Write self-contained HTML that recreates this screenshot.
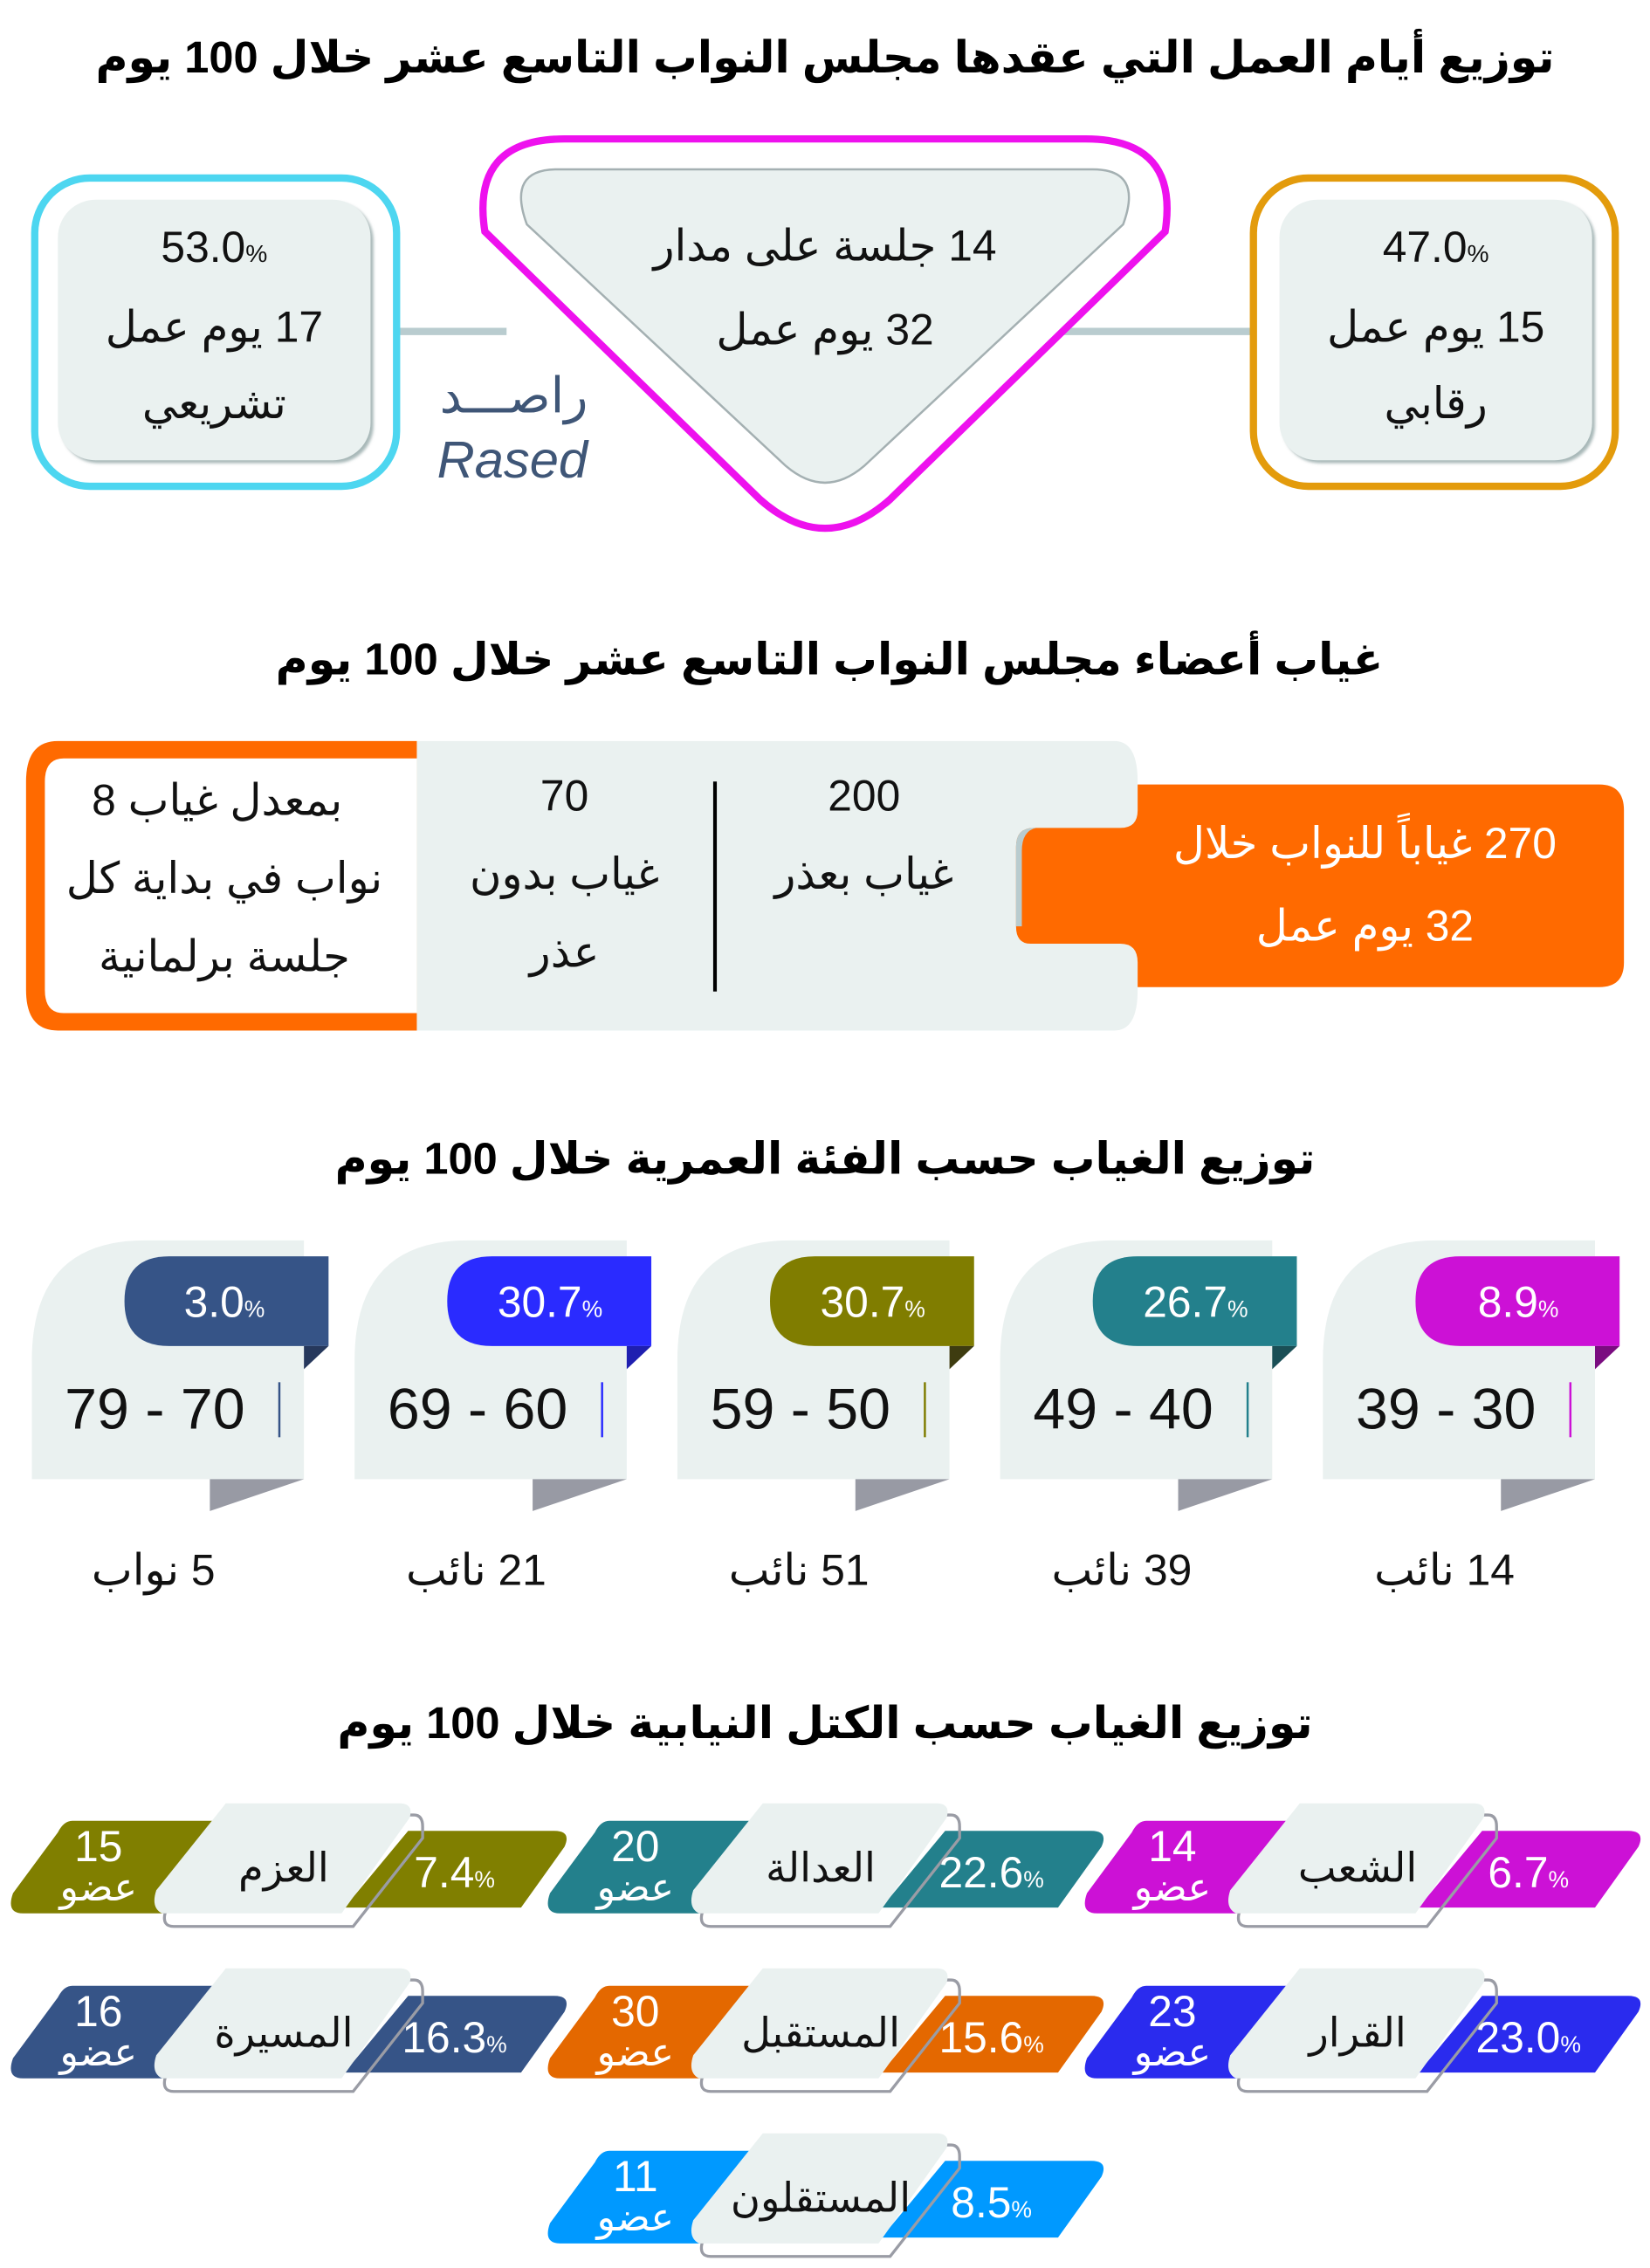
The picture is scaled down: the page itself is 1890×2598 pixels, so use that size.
<!DOCTYPE html>
<html><head><meta charset="utf-8"><style>
html,body{margin:0;padding:0;background:#fff;}
svg{display:block;}
text{font-family:"Liberation Sans","DejaVu Sans",sans-serif;}
.t{font-weight:bold;font-size:30.5px;fill:#000;}
.b{font-size:30px;fill:#111;}
.w{fill:#fff;}
</style></head><body>
<svg width="1890" height="2598" viewBox="0 0 1140 1567" preserveAspectRatio="none" xmlns="http://www.w3.org/2000/svg">
<defs>
<filter id="sh" x="-10%" y="-10%" width="130%" height="130%"><feDropShadow dx="2" dy="2" stdDeviation="1" flood-color="#9fb0b0" flood-opacity="0.9"/></filter>
<g id="pt">
 <path d="M167,1254 L286,1254 Q292,1254 292,1262 L292,1270 L244,1331 L120,1331 Q112,1331 114,1322 L161,1258 Z" fill="none" stroke="#9a9ca5" stroke-width="2"/>
 <path d="M156,1246 L276,1246 Q286,1246 283,1256 L236,1322 L112,1322 Q104,1318 108,1306 Z" fill="#eaf1f0"/>
</g>
</defs>
<text class="t" x="570" y="50" text-anchor="middle" direction="rtl">توزيع أيام العمل التي عقدها مجلس النواب التاسع عشر خلال 100 يوم</text>
<line x1="276" y1="229" x2="350" y2="229" stroke="#b9cccf" stroke-width="5"/>
<line x1="735" y1="229" x2="866" y2="229" stroke="#b9cccf" stroke-width="5"/>
<rect x="24" y="123" width="250" height="213" rx="38" fill="#fff" stroke="#4dd6f0" stroke-width="5"/>
<rect x="40" y="138" width="216" height="180" rx="26" fill="#eaf1f0" filter="url(#sh)"/>
<text class="b" x="148" y="181" text-anchor="middle" direction="ltr" font-size="32">53.0<tspan font-size="17">%</tspan></text>
<text class="b" x="148" y="236" text-anchor="middle" direction="rtl">17 يوم عمل</text>
<text class="b" x="148" y="289" text-anchor="middle" direction="rtl">تشريعي</text>
<rect x="866" y="123" width="250" height="213" rx="38" fill="#fff" stroke="#e39b0c" stroke-width="5"/>
<rect x="884" y="138" width="216" height="180" rx="26" fill="#eaf1f0" filter="url(#sh)"/>
<text class="b" x="992" y="181" text-anchor="middle" direction="ltr" font-size="32">47.0<tspan font-size="17">%</tspan></text>
<text class="b" x="992" y="236" text-anchor="middle" direction="rtl">15 يوم عمل</text>
<text class="b" x="992" y="289" text-anchor="middle" direction="rtl">رقابي</text>
<path d="M390,96 L750,96 Q815,96 805,160 L615,345 Q570,385 525,345 L335,160 Q325,96 390,96 Z" fill="#fff" stroke="#ee11ee" stroke-width="5"/>
<path d="M385,117 L755,117 Q790,117 776,155 L597,322 Q570,345 543,322 L364,155 Q350,117 385,117 Z" fill="#eaf1f0" stroke="#a4b0b2" stroke-width="1.5"/>
<text class="b" x="570" y="180" text-anchor="middle" direction="rtl">14 جلسة على مدار</text>
<text class="b" x="570" y="238" text-anchor="middle" direction="rtl">32 يوم عمل</text>
<text x="355" y="285" text-anchor="middle" font-size="34" fill="#3f5677" direction="rtl">راصـــد</text>
<text x="354" y="330" text-anchor="middle" font-size="36" font-style="italic" font-family="Liberation Serif,serif" fill="#3f5677">Rased</text>

<text class="t" x="573" y="466" text-anchor="middle" direction="rtl">غياب أعضاء مجلس النواب التاسع عشر خلال 100 يوم</text>
<path d="M288,512 L40,512 Q18,512 18,540 L18,684 Q18,712 40,712 L288,712 Z" fill="#ff6a00"/>
<path d="M288,524 L44,524 Q31,524 31,540 L31,684 Q31,700 44,700 L288,700 Z" fill="#fff"/>
<path d="M288,512 L770,512 Q786,512 786,540 L786,684 Q786,712 770,712 L288,712 Z" fill="#eaf1f0"/>
<line x1="494" y1="540" x2="494" y2="685" stroke="#000" stroke-width="2.5"/>
<path d="M786,542 L1105,542 Q1122,542 1122,560 L1122,665 Q1122,682 1105,682 L786,682 L786,665 Q786,652 774,652 L712,652 Q702,652 702,640 L702,585 Q702,572 714,572 L774,572 Q786,572 786,560 Z" fill="#ff6a00"/>
<path d="M702,640 L702,585 Q702,572 714,572 L716,572 Q706,574 706,588 L706,640 Z" fill="#b9cccf"/>
<text class="b" x="150" y="563" text-anchor="middle" direction="rtl">بمعدل غياب 8</text>
<text class="b" x="155" y="617" text-anchor="middle" direction="rtl">نواب في بداية كل</text>
<text class="b" x="155" y="671" text-anchor="middle" direction="rtl">جلسة برلمانية</text>
<text class="b" x="390" y="560" text-anchor="middle" font-size="33">70</text>
<text class="b" x="390" y="614" text-anchor="middle" direction="rtl">غياب بدون</text>
<text class="b" x="390" y="668" text-anchor="middle" direction="rtl">عذر</text>
<text class="b" x="597" y="560" text-anchor="middle" font-size="33">200</text>
<text class="b" x="597" y="614" text-anchor="middle" direction="rtl">غياب بعذر</text>
<text class="b w" x="943" y="593" text-anchor="middle" direction="rtl" font-size="31">270 غياباً للنواب خلال</text>
<text class="b w" x="943" y="650" text-anchor="middle" direction="rtl" font-size="31">32 يوم عمل</text>

<text class="t" x="570" y="811" text-anchor="middle" direction="rtl">توزيع الغياب حسب الفئة العمرية خلال 100 يوم</text>
<g>
 <path d="M22,1022 L22,940 Q22,857 100,857 L210,857 L210,1022 Z" fill="#eaf1f0"/>
 <path d="M117,868 L227,868 L227,930 L117,930 Q86,930 86,899 Q86,868 117,868 Z" fill="#365487"/>
 <path d="M210,930 L227,930 L210,946 Z" fill="#26385c"/>
 <path d="M145,1022 L210,1022 L145,1044 Z" fill="#989aa4"/>
 <line x1="193" y1="955" x2="193" y2="993" stroke="#365487" stroke-width="1.5"/>
 <text x="155" y="910" text-anchor="middle" font-size="30" class="w">3.0<tspan font-size="16">%</tspan></text>
 <text x="107" y="987" text-anchor="middle" font-size="40" fill="#111">79 - 70</text>
 <text class="b" x="106" y="1095" text-anchor="middle" direction="rtl">5 نواب</text>
</g>
<g transform="translate(223,0)">
 <path d="M22,1022 L22,940 Q22,857 100,857 L210,857 L210,1022 Z" fill="#eaf1f0"/>
 <path d="M117,868 L227,868 L227,930 L117,930 Q86,930 86,899 Q86,868 117,868 Z" fill="#2a2bff"/>
 <path d="M210,930 L227,930 L210,946 Z" fill="#1f1fb0"/>
 <path d="M145,1022 L210,1022 L145,1044 Z" fill="#989aa4"/>
 <line x1="193" y1="955" x2="193" y2="993" stroke="#2a2bff" stroke-width="1.5"/>
 <text x="157" y="910" text-anchor="middle" font-size="30" class="w">30.7<tspan font-size="16">%</tspan></text>
 <text x="107" y="987" text-anchor="middle" font-size="40" fill="#111">69 - 60</text>
 <text class="b" x="106" y="1095" text-anchor="middle" direction="rtl">21 نائب</text>
</g>
<g transform="translate(446,0)">
 <path d="M22,1022 L22,940 Q22,857 100,857 L210,857 L210,1022 Z" fill="#eaf1f0"/>
 <path d="M117,868 L227,868 L227,930 L117,930 Q86,930 86,899 Q86,868 117,868 Z" fill="#807d00"/>
 <path d="M210,930 L227,930 L210,946 Z" fill="#3e3c10"/>
 <path d="M145,1022 L210,1022 L145,1044 Z" fill="#989aa4"/>
 <line x1="193" y1="955" x2="193" y2="993" stroke="#807d00" stroke-width="1.5"/>
 <text x="157" y="910" text-anchor="middle" font-size="30" class="w">30.7<tspan font-size="16">%</tspan></text>
 <text x="107" y="987" text-anchor="middle" font-size="40" fill="#111">59 - 50</text>
 <text class="b" x="106" y="1095" text-anchor="middle" direction="rtl">51 نائب</text>
</g>
<g transform="translate(669,0)">
 <path d="M22,1022 L22,940 Q22,857 100,857 L210,857 L210,1022 Z" fill="#eaf1f0"/>
 <path d="M117,868 L227,868 L227,930 L117,930 Q86,930 86,899 Q86,868 117,868 Z" fill="#23808c"/>
 <path d="M210,930 L227,930 L210,946 Z" fill="#1a4f56"/>
 <path d="M145,1022 L210,1022 L145,1044 Z" fill="#989aa4"/>
 <line x1="193" y1="955" x2="193" y2="993" stroke="#23808c" stroke-width="1.5"/>
 <text x="157" y="910" text-anchor="middle" font-size="30" class="w">26.7<tspan font-size="16">%</tspan></text>
 <text x="107" y="987" text-anchor="middle" font-size="40" fill="#111">49 - 40</text>
 <text class="b" x="106" y="1095" text-anchor="middle" direction="rtl">39 نائب</text>
</g>
<g transform="translate(892,0)">
 <path d="M22,1022 L22,940 Q22,857 100,857 L210,857 L210,1022 Z" fill="#eaf1f0"/>
 <path d="M117,868 L227,868 L227,930 L117,930 Q86,930 86,899 Q86,868 117,868 Z" fill="#cc11d6"/>
 <path d="M210,930 L227,930 L210,946 Z" fill="#7a0c80"/>
 <path d="M145,1022 L210,1022 L145,1044 Z" fill="#989aa4"/>
 <line x1="193" y1="955" x2="193" y2="993" stroke="#cc11d6" stroke-width="1.5"/>
 <text x="157" y="910" text-anchor="middle" font-size="30" class="w">8.9<tspan font-size="16">%</tspan></text>
 <text x="107" y="987" text-anchor="middle" font-size="40" fill="#111">39 - 30</text>
 <text class="b" x="106" y="1095" text-anchor="middle" direction="rtl">14 نائب</text>
</g>

<text class="t" x="570" y="1201" text-anchor="middle" direction="rtl">توزيع الغياب حسب الكتل النيابية خلال 100 يوم</text>
<g>
 <path d="M50,1258 L148,1258 L115,1322 L16,1322 Q4,1322 9,1308 L40,1266 Q44,1258 50,1258 Z" fill="#807f00"/>
 <path d="M282,1265 L383,1265 Q395,1265 390,1276 L360,1318 L238,1318 Z" fill="#807f00"/>
 <use href="#pt"/>
 <text x="68" y="1286" text-anchor="middle" font-size="30" class="w">15</text>
 <text x="68" y="1313" text-anchor="middle" font-size="27" class="w" direction="rtl">عضو</text>
 <text x="196" y="1300" text-anchor="middle" font-size="28" fill="#111" direction="rtl">العزم</text>
 <text x="314" y="1304" text-anchor="middle" font-size="30" class="w">7.4<tspan font-size="16">%</tspan></text>
</g>
<g transform="translate(371,0)">
 <path d="M50,1258 L148,1258 L115,1322 L16,1322 Q4,1322 9,1308 L40,1266 Q44,1258 50,1258 Z" fill="#23808c"/>
 <path d="M282,1265 L383,1265 Q395,1265 390,1276 L360,1318 L238,1318 Z" fill="#23808c"/>
 <use href="#pt"/>
 <text x="68" y="1286" text-anchor="middle" font-size="30" class="w">20</text>
 <text x="68" y="1313" text-anchor="middle" font-size="27" class="w" direction="rtl">عضو</text>
 <text x="196" y="1300" text-anchor="middle" font-size="28" fill="#111" direction="rtl">العدالة</text>
 <text x="314" y="1304" text-anchor="middle" font-size="30" class="w">22.6<tspan font-size="16">%</tspan></text>
</g>
<g transform="translate(742,0)">
 <path d="M50,1258 L148,1258 L115,1322 L16,1322 Q4,1322 9,1308 L40,1266 Q44,1258 50,1258 Z" fill="#cc11d6"/>
 <path d="M282,1265 L383,1265 Q395,1265 390,1276 L360,1318 L238,1318 Z" fill="#cc11d6"/>
 <use href="#pt"/>
 <text x="68" y="1286" text-anchor="middle" font-size="30" class="w">14</text>
 <text x="68" y="1313" text-anchor="middle" font-size="27" class="w" direction="rtl">عضو</text>
 <text x="196" y="1300" text-anchor="middle" font-size="28" fill="#111" direction="rtl">الشعب</text>
 <text x="314" y="1304" text-anchor="middle" font-size="30" class="w">6.7<tspan font-size="16">%</tspan></text>
</g>
<g transform="translate(0,114)">
 <path d="M50,1258 L148,1258 L115,1322 L16,1322 Q4,1322 9,1308 L40,1266 Q44,1258 50,1258 Z" fill="#365487"/>
 <path d="M282,1265 L383,1265 Q395,1265 390,1276 L360,1318 L238,1318 Z" fill="#365487"/>
 <use href="#pt"/>
 <text x="68" y="1286" text-anchor="middle" font-size="30" class="w">16</text>
 <text x="68" y="1313" text-anchor="middle" font-size="27" class="w" direction="rtl">عضو</text>
 <text x="196" y="1300" text-anchor="middle" font-size="28" fill="#111" direction="rtl">المسيرة</text>
 <text x="314" y="1304" text-anchor="middle" font-size="30" class="w">16.3<tspan font-size="16">%</tspan></text>
</g>
<g transform="translate(371,114)">
 <path d="M50,1258 L148,1258 L115,1322 L16,1322 Q4,1322 9,1308 L40,1266 Q44,1258 50,1258 Z" fill="#e46800"/>
 <path d="M282,1265 L383,1265 Q395,1265 390,1276 L360,1318 L238,1318 Z" fill="#e46800"/>
 <use href="#pt"/>
 <text x="68" y="1286" text-anchor="middle" font-size="30" class="w">30</text>
 <text x="68" y="1313" text-anchor="middle" font-size="27" class="w" direction="rtl">عضو</text>
 <text x="196" y="1300" text-anchor="middle" font-size="28" fill="#111" direction="rtl">المستقبل</text>
 <text x="314" y="1304" text-anchor="middle" font-size="30" class="w">15.6<tspan font-size="16">%</tspan></text>
</g>
<g transform="translate(742,114)">
 <path d="M50,1258 L148,1258 L115,1322 L16,1322 Q4,1322 9,1308 L40,1266 Q44,1258 50,1258 Z" fill="#2a2bee"/>
 <path d="M282,1265 L383,1265 Q395,1265 390,1276 L360,1318 L238,1318 Z" fill="#2a2bee"/>
 <use href="#pt"/>
 <text x="68" y="1286" text-anchor="middle" font-size="30" class="w">23</text>
 <text x="68" y="1313" text-anchor="middle" font-size="27" class="w" direction="rtl">عضو</text>
 <text x="196" y="1300" text-anchor="middle" font-size="28" fill="#111" direction="rtl">القرار</text>
 <text x="314" y="1304" text-anchor="middle" font-size="30" class="w">23.0<tspan font-size="16">%</tspan></text>
</g>
<g transform="translate(371,228)">
 <path d="M50,1258 L148,1258 L115,1322 L16,1322 Q4,1322 9,1308 L40,1266 Q44,1258 50,1258 Z" fill="#0099ff"/>
 <path d="M282,1265 L383,1265 Q395,1265 390,1276 L360,1318 L238,1318 Z" fill="#0099ff"/>
 <use href="#pt"/>
 <text x="68" y="1286" text-anchor="middle" font-size="30" class="w">11</text>
 <text x="68" y="1313" text-anchor="middle" font-size="27" class="w" direction="rtl">عضو</text>
 <text x="196" y="1300" text-anchor="middle" font-size="28" fill="#111" direction="rtl">المستقلون</text>
 <text x="314" y="1304" text-anchor="middle" font-size="30" class="w">8.5<tspan font-size="16">%</tspan></text>
</g>
</svg>
</body></html>
